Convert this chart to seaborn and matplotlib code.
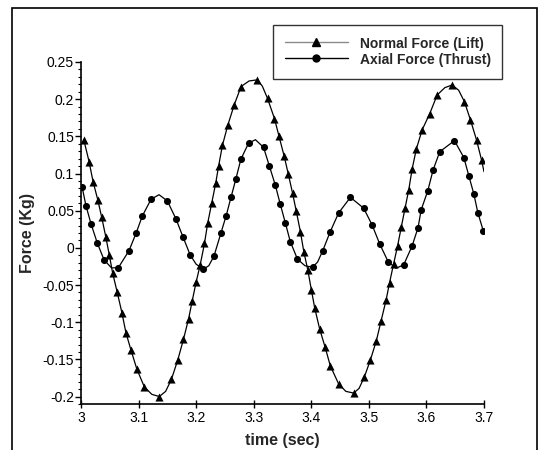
import matplotlib
matplotlib.use("Agg")
import matplotlib.pyplot as plt
import numpy as np
import pandas as pd
import seaborn as sns
from matplotlib.lines import Line2D
from matplotlib.patches import Rectangle
from matplotlib.ticker import FuncFormatter, MultipleLocator

# marker points
lift_t = [3.005, 3.014, 3.021, 3.029, 3.036, 3.043, 3.049, 3.055, 3.063, 3.071,
          3.078, 3.087, 3.097, 3.110, 3.136, 3.157, 3.168, 3.178, 3.187, 3.193,
          3.200, 3.207, 3.2145, 3.220, 3.227, 3.234, 3.239, 3.2457, 3.255, 3.266,
          3.278, 3.306, 3.324, 3.336, 3.344, 3.353, 3.360, 3.3675, 3.374, 3.381,
          3.387, 3.394, 3.400, 3.406, 3.4145, 3.424, 3.433, 3.4475, 3.4736, 3.492,
          3.5026, 3.513, 3.521, 3.530, 3.536, 3.543, 3.550, 3.5565, 3.563, 3.5693,
          3.5751, 3.5825, 3.5925, 3.6058, 3.6186, 3.6447, 3.666, 3.6765, 3.687, 3.6957]
lift_v = [0.145, 0.116, 0.089, 0.065, 0.041, 0.015, -0.009, -0.034, -0.060, -0.087,
          -0.114, -0.138, -0.163, -0.187, -0.200, -0.177, -0.151, -0.123, -0.095, -0.072,
          -0.046, -0.023, 0.006, 0.033, 0.060, 0.087, 0.110, 0.138, 0.165, 0.192,
          0.217, 0.226, 0.201, 0.174, 0.150, 0.123, 0.0995, 0.0735, 0.049, 0.022,
          -0.005, -0.030, -0.056, -0.081, -0.109, -0.1335, -0.1586, -0.183, -0.1953, -0.174,
          -0.151, -0.125, -0.099, -0.070, -0.0466, -0.0215, 0.003, 0.0286, 0.054, 0.078,
          0.1058, 0.133, 0.1586, 0.1806, 0.2056, 0.2191, 0.1966, 0.172, 0.1452, 0.1183]

thrust_t = [3.002, 3.0087, 3.0174, 3.0284, 3.040, 3.065, 3.0835, 3.0957, 3.1066, 3.1217,
            3.150, 3.1652, 3.1769, 3.1896, 3.2127, 3.231, 3.243, 3.2522, 3.2609, 3.269,
            3.2777, 3.291, 3.317, 3.327, 3.3374, 3.346, 3.3548, 3.3635, 3.376, 3.4023,
            3.420, 3.433, 3.4475, 3.468, 3.491, 3.5056, 3.519, 3.5334, 3.5605, 3.575,
            3.5855, 3.5908, 3.6023, 3.6116, 3.6232, 3.6487, 3.665, 3.6737, 3.6823, 3.6893,
            3.6986]
thrust_v = [0.0816, 0.0565, 0.0323, 0.0063, -0.016, -0.0265, -0.0036, 0.0198, 0.043, 0.0654,
            0.0632, 0.0385, 0.0152, -0.0094, -0.0286, -0.011, 0.0198, 0.0434, 0.069, 0.0927,
            0.1192, 0.1407, 0.1353, 0.1106, 0.0847, 0.0591, 0.034, 0.0085, -0.0152, -0.026,
            -0.0036, 0.0219, 0.047, 0.068, 0.0533, 0.0309, 0.005, -0.0184, -0.0228, 0.0023,
            0.0273, 0.051, 0.0766, 0.1048, 0.1294, 0.1442, 0.1214, 0.0968, 0.0726, 0.0474,
            0.0233]

# extra curve-only points (peaks / troughs between markers, and curve end)
lift_curve_t = [3.123, 3.147, 3.292, 3.315, 3.460, 3.483, 3.632, 3.656, 3.700]
lift_curve_v = [-0.197, -0.193, 0.2245, 0.2175, -0.193, -0.189, 0.2155, 0.212, 0.1025]
thrust_curve_t = [3.053, 3.1355, 3.200, 3.222, 3.303, 3.389, 3.411, 3.547]
thrust_curve_v = [-0.027, 0.0715, -0.022, -0.024, 0.1455, -0.024, -0.019, -0.0275]

sns.set_style("ticks")
plt.rcParams["font.family"] = ["Liberation Sans", "DejaVu Sans"]
plt.rcParams["axes.unicode_minus"] = False

fig = plt.figure(figsize=(5.45, 4.5), dpi=100)
ax = fig.add_axes([81 / 545, 1 - 404 / 450, (484 - 81) / 545, (404 - 62) / 450])


def curve(t, v, ct, cv):
    df = pd.DataFrame({"t": list(t) + list(ct), "v": list(v) + list(cv)})
    return df.sort_values("t")


lift = curve(lift_t, lift_v, lift_curve_t, lift_curve_v)
thrust = curve(thrust_t, thrust_v, thrust_curve_t, thrust_curve_v)

sns.lineplot(data=lift, x="t", y="v", ax=ax, color="black", lw=0.9, sort=False)
sns.lineplot(data=thrust, x="t", y="v", ax=ax, color="black", lw=0.9, sort=False)
sns.scatterplot(x=lift_t, y=lift_v, ax=ax, marker="^", s=34, color="black",
                edgecolor="black", linewidth=0, zorder=3)
sns.scatterplot(x=thrust_t, y=thrust_v, ax=ax, marker="o", s=26, color="black",
                edgecolor="black", linewidth=0, zorder=3)

ax.set_xlim(3.0, 3.7)
ax.set_ylim(-0.21, 0.25)
ax.xaxis.set_major_locator(MultipleLocator(0.1))
ax.yaxis.set_major_locator(MultipleLocator(0.05))
ax.yaxis.set_minor_locator(MultipleLocator(0.01))
fmt = FuncFormatter(lambda val, pos: f"{round(val, 3):g}")
ax.xaxis.set_major_formatter(fmt)
ax.yaxis.set_major_formatter(fmt)
ax.tick_params(axis="x", which="major", direction="inout", length=6, width=1,
               labelsize=10, pad=2, colors="black")
ax.tick_params(axis="y", which="major", direction="out", length=4, width=1,
               labelsize=10, pad=1, colors="black")
ax.tick_params(axis="y", which="minor", direction="out", length=2, width=0.8,
               colors="black")
for side in ["top", "right"]:
    ax.spines[side].set_visible(False)
for side in ["left", "bottom"]:
    ax.spines[side].set_color("black")
    ax.spines[side].set_linewidth(1.2)

ax.set_xlabel("time (sec)", fontsize=11.5, fontweight="bold", labelpad=6)
ax.set_ylabel("Force (Kg)", fontsize=11.5, fontweight="bold", labelpad=5)

handles = [
    Line2D([], [], color="#8a8a8a", lw=1, marker="^", markersize=5.5,
           markerfacecolor="black", markeredgecolor="black"),
    Line2D([], [], color="black", lw=1, marker="o", markersize=5,
           markerfacecolor="black", markeredgecolor="black"),
]
leg = fig.legend(handles, ["Normal Force (Lift)", "Axial Force (Thrust)"],
                 loc="upper left", bbox_to_anchor=(272.7 / 545, 1 - 25 / 450),
                 borderaxespad=0, frameon=True, fancybox=False, numpoints=1,
                 handlelength=4.6, handletextpad=0.8, borderpad=0.85,
                 handleheight=1.0, labelspacing=0.15,
                 prop={"weight": "bold", "size": 10})
leg.get_frame().set_edgecolor("black")
leg.get_frame().set_linewidth(1)

fig.patches.append(Rectangle((11.5 / 545, -0.02), (537 - 11.5) / 545, 1.02 - 8.3 / 450,
                             transform=fig.transFigure, fill=False,
                             edgecolor="black", linewidth=1.2))

fig.savefig("out.png", dpi=100)
